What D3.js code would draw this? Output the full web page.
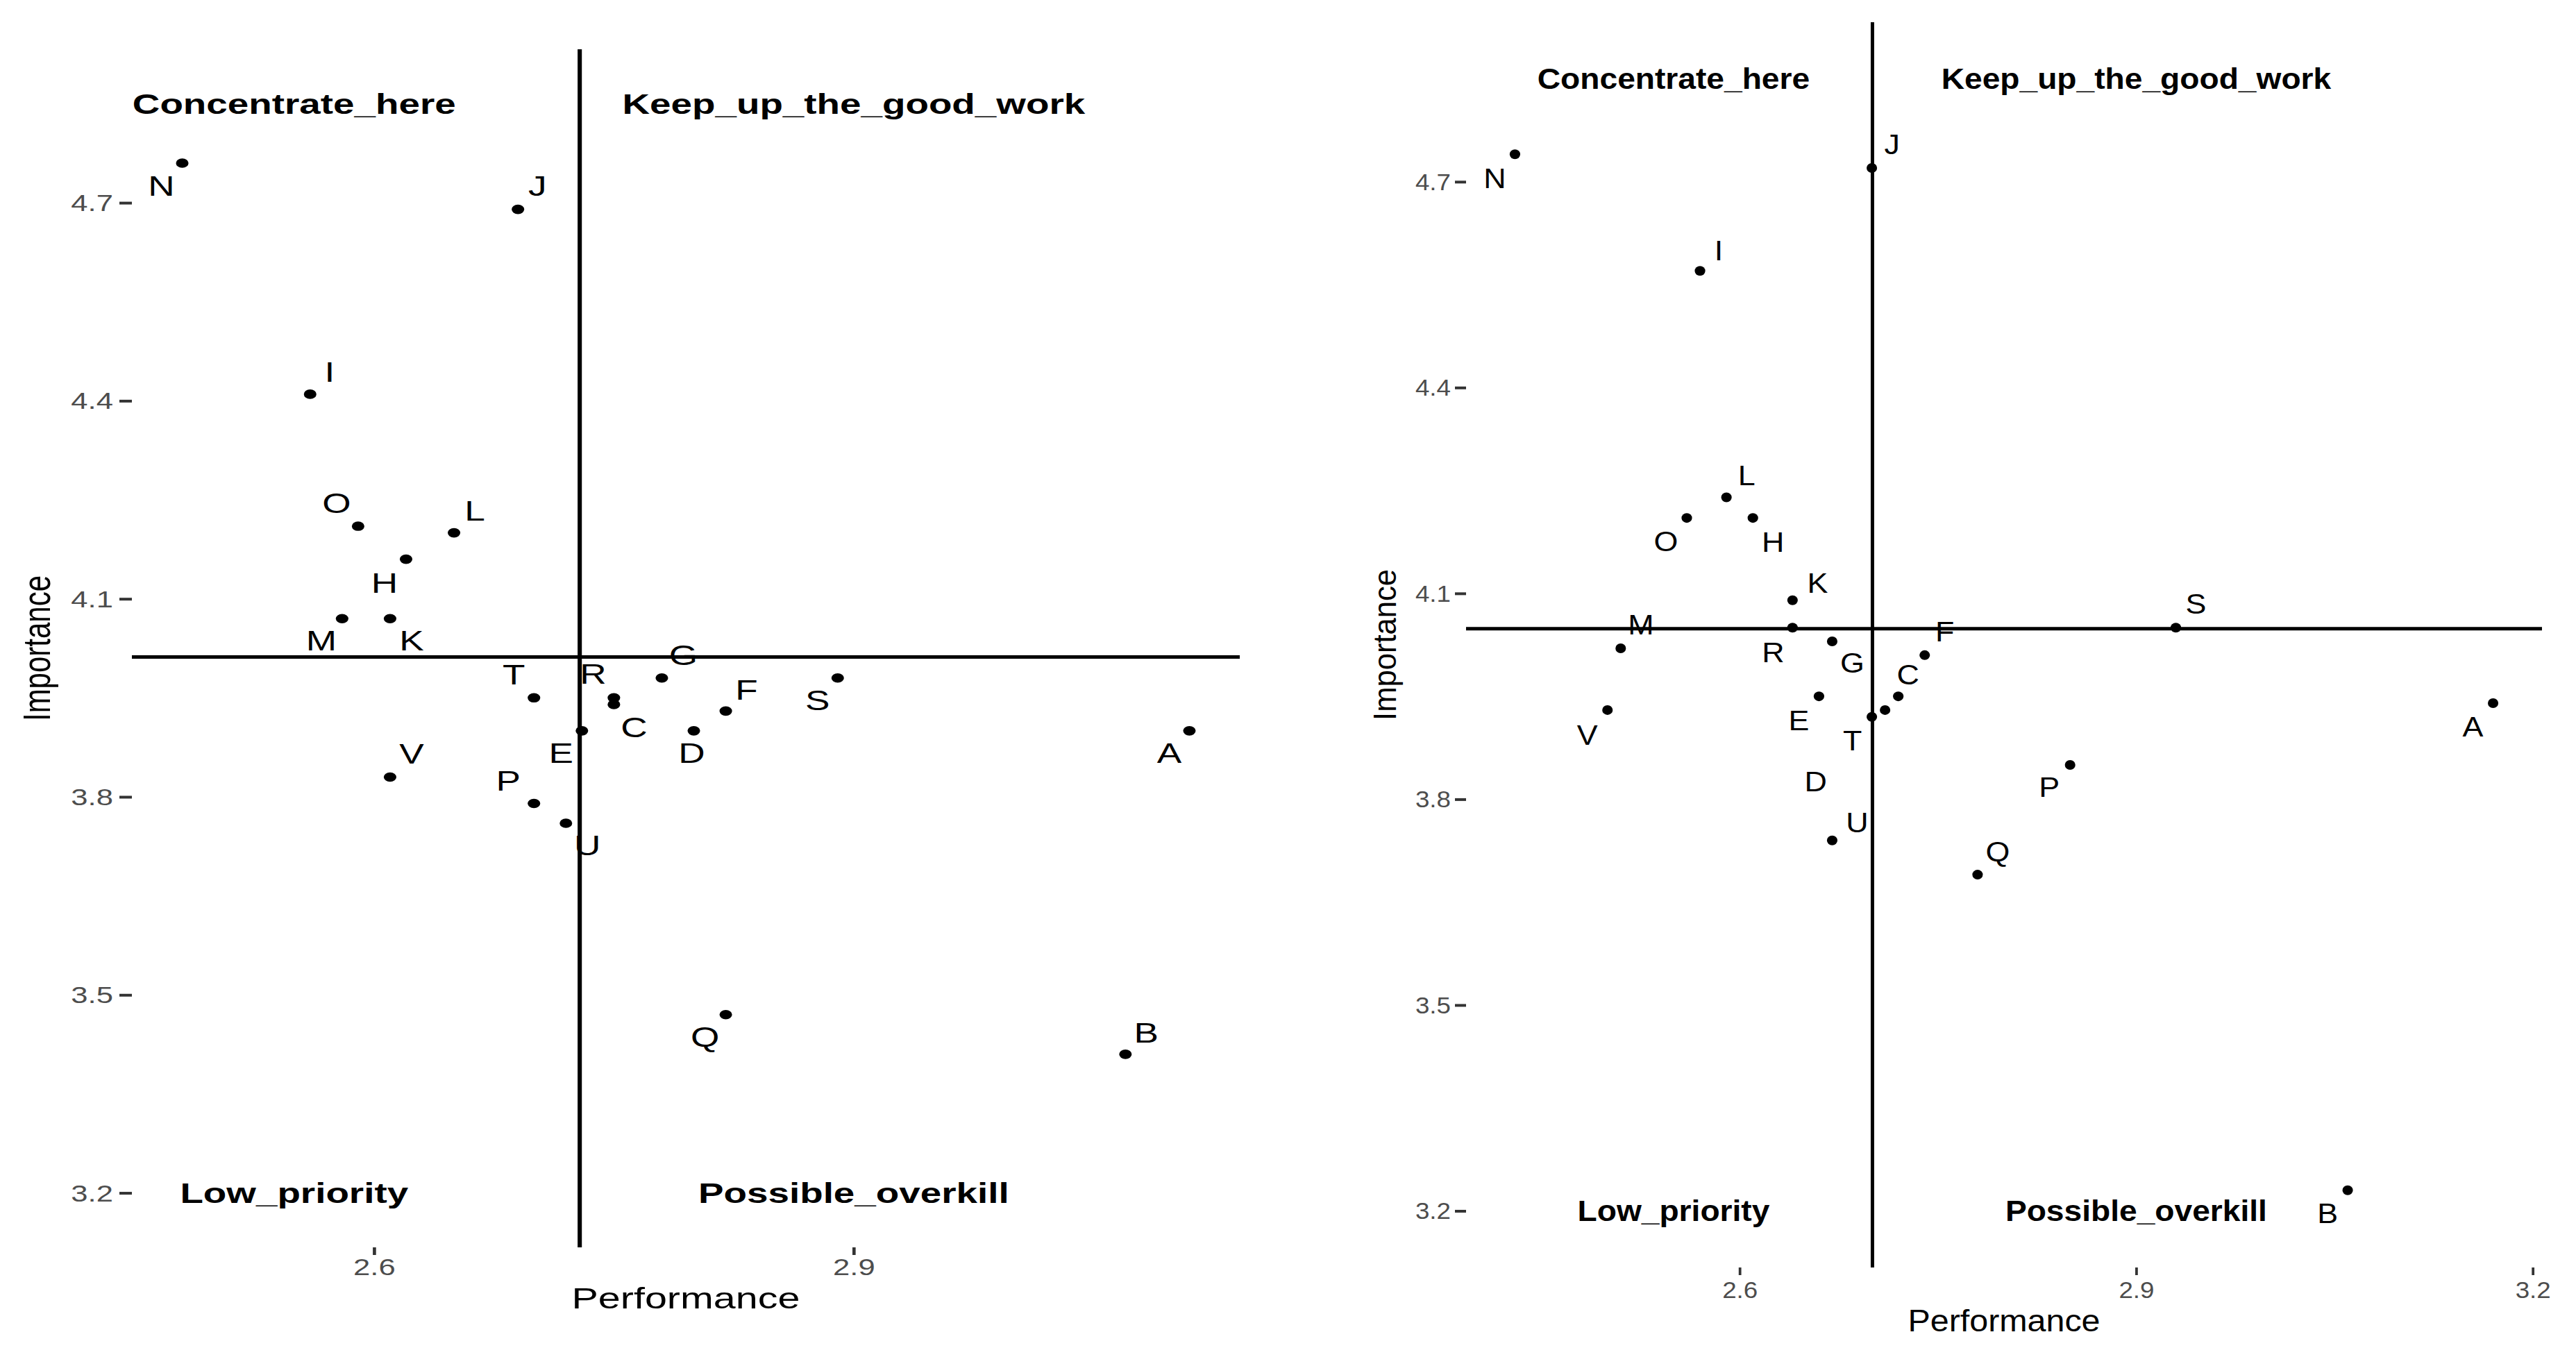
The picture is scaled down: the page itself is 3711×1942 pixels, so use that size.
<!DOCTYPE html>
<html>
<head>
<meta charset="utf-8">
<script src="https://cdn.jsdelivr.net/npm/d3@7"></script>
<style>
  body { margin:0; background:#fff; }
  text { font-family: "Liberation Sans", Arial, sans-serif; }
</style>
</head>
<body>
<svg id="viz-svg" width="3711" height="1942"></svg>
<script>
// ---- data ----
var items = ["A","B","C","D","E","F","G","H","I","J","K","L","M","N","O","P","Q","R","S","T","U","V"]

// left plot
var perfLeft = [3.11,3.07,2.75,2.80,2.73,2.82,2.78,2.62,2.56,2.69,2.61,2.65,2.58,2.48,2.59,2.70,2.82,2.75,2.89,2.70,2.72,2.61]
var impLeft  = [3.90,3.41,3.94,3.90,3.90,3.93,3.98,4.16,4.41,4.69,4.07,4.20,4.07,4.76,4.21,3.79,3.47,3.95,3.98,3.95,3.76,3.83]

// right plot
var perfRight = [3.17,3.06,2.72,2.71,2.66,2.74,2.67,2.61,2.57,2.70,2.64,2.59,2.51,2.43,2.56,2.85,2.78,2.64,2.93,2.70,2.67,2.50]
var impRight  = [3.94,3.23,3.95,3.93,3.95,4.01,4.03,4.21,4.57,4.72,4.09,4.24,4.02,4.74,4.21,3.85,3.69,4.05,4.05,3.92,3.74,3.93]

var quadNames = ["Concentrate_here","Keep_up_the_good_work","Low_priority","Possible_overkill"]
var quadPerf  = [2.55, 2.9, 2.55, 2.9]
var quadImp   = [4.85, 4.85, 3.2, 3.2]

var xTickValues = [2.6, 2.9, 3.2]
var yTickValues = [3.2, 3.5, 3.8, 4.1, 4.4, 4.7]
var xTitle = "Performance"
  , yTitle = "Importance"

// ---- layout ----
// where the repelled labels ended up, px from their point
var nudgeLeft = {
  A:[-29,32], B:[30,-31], C:[29,33], D:[-3,32], E:[-30,32], F:[30,-30], G:[31,-33],
  H:[-31,34], I:[28,-32], J:[28,-34], K:[31,32], L:[30,-32], M:[-30,32], N:[-30,33],
  O:[-31,-33], P:[-37,-32], Q:[-30,32], R:[-30,-34], S:[-29,32], T:[-29,-33], U:[31,32], V:[31,-33]
}
var nudgeRight = {
  A:[-29,34], B:[-29,33], C:[14,-32], D:[-100,103], E:[-29,34], F:[29,-34], G:[29,31],
  H:[29,34], I:[27,-30], J:[29,-34], K:[36,-25], L:[29,-32], M:[29,-34], N:[-29,34],
  O:[-30,33], P:[-30,32], Q:[29,-34], R:[-28,35], S:[29,-35], T:[-28,34], U:[36,-26], V:[-29,36]
}

// the two plots were stretched sideways by different amounts, sx keeps that
var leftCfg  = {x0:190,  x1:1786, y0:71, y1:1797, sx:1.33, fs:40,   dot:6.8, yTick:18, yPad:9, xTick:11, xLabelMid:1826, xTitleY:1870, yTitleX:52}
  , rightCfg = {x0:2112, x1:3662, y0:32, y1:1826, sx:1.08, fs:41.5, dot:7,   yTick:16, yPad:6, xTick:11, xLabelMid:1858, xTitleY:1903, yTitleX:1995}

var svg = d3.select("#viz-svg")
svg.append("rect").attr("width",3711).attr("height",1942).attr("fill","#fff")

drawPanel(leftCfg, perfLeft, impLeft, nudgeLeft)
drawPanel(rightCfg, perfRight, impRight, nudgeRight)

function stretch(cx, cy, sx){
  return "translate(" + cx + "," + cy + ") scale(" + sx + ",1)"
}

function drawPanel(cfg, perf, imp, nudge){
  var g = svg.append("g")
    , xExt = d3.extent(perf.concat(quadPerf))
    , yExt = d3.extent(imp.concat(quadImp))
    , xPad = (xExt[1]-xExt[0])*0.05
    , yPad = (yExt[1]-yExt[0])*0.05
    , x = d3.scaleLinear().domain([xExt[0]-xPad, xExt[1]+xPad]).range([cfg.x0, cfg.x1])
    , y = d3.scaleLinear().domain([yExt[0]-yPad, yExt[1]+yPad]).range([cfg.y1, cfg.y0])
    , pts = items.map(function(d,i){ return {name:d, p:perf[i], v:imp[i]} })

  // axes (ggplot theme without axis lines)
  var xAxis = d3.axisBottom(x)
    .tickValues(xTickValues.filter(function(t){ return t >= x.domain()[0] && t <= x.domain()[1] }))
    .tickSize(cfg.xTick).tickFormat(d3.format(".1f"))
  var yAxis = d3.axisLeft(y)
    .tickValues(yTickValues.filter(function(t){ return t >= y.domain()[0] && t <= y.domain()[1] }))
    .tickSize(cfg.yTick).tickFormat(d3.format(".1f"))

  var gx = g.append("g").attr("transform","translate(0," + cfg.y1 + ")").call(xAxis)
  var gy = g.append("g").attr("transform","translate(" + cfg.x0 + ",0)").call(yAxis)
  ;[gx, gy].forEach(function(a){
    a.select(".domain").remove()
    a.attr("font-family", null).attr("font-size", cfg.fs*0.82)
    a.selectAll(".tick line").attr("stroke","#333").attr("stroke-width", 4)
    a.selectAll(".tick text").attr("fill","#4D4D4D").attr("dy", null)
      .attr("dominant-baseline","central")
  })
  gx.selectAll(".tick line").attr("stroke-width", 3.5*cfg.sx)
  gx.selectAll(".tick text").attr("y", 0)
    .attr("transform", stretch(0, cfg.xLabelMid - cfg.y1, cfg.sx))
  gy.selectAll(".tick text").attr("x", 0)
    .attr("transform", stretch(-(cfg.yTick + cfg.yPad), 0, cfg.sx))

  // mean lines
  g.append("line")
    .attr("x1", x(d3.mean(perf))).attr("x2", x(d3.mean(perf)))
    .attr("y1", cfg.y0).attr("y2", cfg.y1)
    .attr("stroke","#000").attr("stroke-width", 4.6*cfg.sx)
  g.append("line")
    .attr("x1", cfg.x0).attr("x2", cfg.x1)
    .attr("y1", y(d3.mean(imp))).attr("y2", y(d3.mean(imp)))
    .attr("stroke","#000").attr("stroke-width", 5)

  // points
  g.append("g").selectAll("ellipse")
    .data(pts)
    .enter().append("ellipse")
      .attr("cx", function(d){ return x(d.p) })
      .attr("cy", function(d){ return y(d.v) })
      .attr("rx", cfg.dot*cfg.sx).attr("ry", cfg.dot)
      .attr("fill","#000")

  // point labels
  g.append("g").selectAll("text")
    .data(pts)
    .enter().append("text")
      .attr("transform", function(d){
        var n = nudge[d.name]
        return stretch(x(d.p) + n[0], y(d.v) + n[1], cfg.sx)
      })
      .attr("text-anchor","middle")
      .attr("dominant-baseline","central")
      .attr("font-size", cfg.fs)
      .attr("fill","#000")
      .text(function(d){ return d.name })

  // quadrant names
  g.append("g").selectAll("text")
    .data(quadNames)
    .enter().append("text")
      .attr("transform", function(d,i){ return stretch(x(quadPerf[i]), y(quadImp[i]), cfg.sx) })
      .attr("text-anchor","middle")
      .attr("dominant-baseline","central")
      .attr("font-size", cfg.fs*1.03)
      .attr("font-weight","bold")
      .attr("fill","#000")
      .text(function(d){ return d })

  // axis titles
  g.append("text")
    .attr("transform", stretch((cfg.x0+cfg.x1)/2, cfg.xTitleY, cfg.sx))
    .attr("text-anchor","middle")
    .attr("dominant-baseline","central")
    .attr("font-size", cfg.fs*1.08)
    .text(xTitle)
  g.append("text")
    .attr("transform", stretch(cfg.yTitleX, (cfg.y0+cfg.y1)/2, cfg.sx) + " rotate(-90)")
    .attr("text-anchor","middle")
    .attr("dominant-baseline","central")
    .attr("font-size", cfg.fs*1.05)
    .text(yTitle)
}
</script>
</body>
</html>
